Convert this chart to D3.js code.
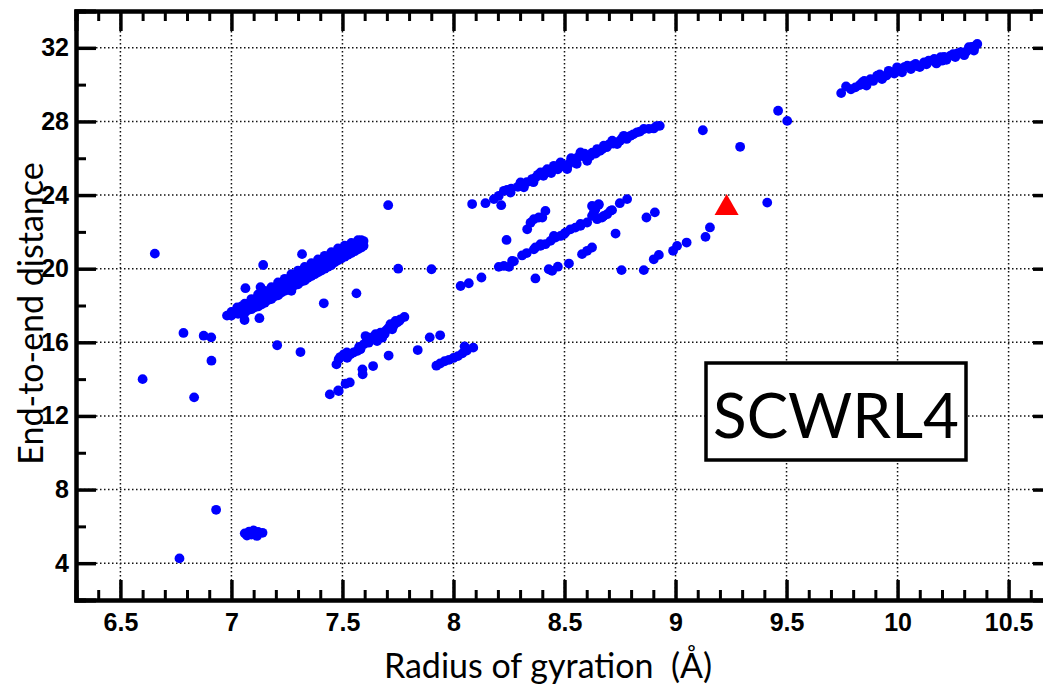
<!DOCTYPE html>
<html>
<head>
<meta charset="utf-8">
<script src="https://cdn.jsdelivr.net/npm/d3@7"></script>
<style>
  body { margin: 0; background: #fff; }
  .tick-lbl text { font-family: "Liberation Sans", Arial, sans-serif; font-weight: bold; font-size: 25px; fill: #000; }
  .axis-title { font-family: Lato, "Open Sans", sans-serif; font-size: 34px; fill: #000; white-space: pre; }
</style>
</head>
<body>
<div id="chart"></div>
<script>
// ---- data ----
const xMajor = [6.5, 7, 7.5, 8, 8.5, 9, 9.5, 10, 10.5];
const xMinor = [6.4, 6.6, 6.7, 6.8, 6.9, 7.1, 7.2, 7.3, 7.4, 7.6, 7.7, 7.8, 7.9,
    8.1, 8.2, 8.3, 8.4, 8.6, 8.7, 8.8, 8.9, 9.1, 9.2, 9.3, 9.4, 9.6, 9.7, 9.8, 9.9,
    10.1, 10.2, 10.3, 10.4, 10.6];
const yMajor = [4, 8, 12, 16, 20, 24, 28, 32];
const yMinor = [6, 10, 14, 18, 22, 26, 30];

// dense band near Rg 7.0-7.6
const bandA = [
    [6.98, 17.45], [7.00, 17.45], [7.00, 17.65], [7.03, 17.55], [7.03, 17.85],
    [7.06, 17.6], [7.06, 17.85], [7.06, 18.1], [7.09, 17.8], [7.09, 18.05], [7.09, 18.35],
    [7.12, 17.95], [7.12, 18.25], [7.12, 18.6], [7.15, 18.15], [7.15, 18.45], [7.15, 18.8],
    [7.18, 18.35], [7.18, 18.7], [7.18, 19.0], [7.21, 18.55], [7.21, 18.9], [7.21, 19.25],
    [7.24, 18.8], [7.24, 19.1], [7.24, 19.45], [7.27, 18.95], [7.27, 19.3], [7.27, 19.7],
    [7.30, 19.15], [7.30, 19.5], [7.30, 19.9], [7.33, 19.35], [7.33, 19.75], [7.33, 20.1],
    [7.36, 19.6], [7.36, 19.95], [7.36, 20.3], [7.39, 19.8], [7.39, 20.15], [7.39, 20.5],
    [7.42, 20.0], [7.42, 20.35], [7.42, 20.7], [7.45, 20.2], [7.45, 20.55], [7.45, 20.9],
    [7.48, 20.45], [7.48, 20.75], [7.48, 21.1], [7.51, 20.65], [7.51, 20.95], [7.51, 21.25],
    [7.54, 20.85], [7.54, 21.15], [7.54, 21.4], [7.57, 21.05], [7.57, 21.3], [7.57, 21.55],
    [7.595, 21.25], [7.595, 21.5], [7.27, 18.8], [7.131, 19.0], [7.026, 17.9],
    [7.045, 17.6], [7.045, 17.95], [7.075, 17.75], [7.075, 18.1], [7.105, 17.9], [7.105, 18.3],
    [7.135, 18.05], [7.135, 18.5], [7.165, 18.3], [7.165, 18.7], [7.195, 18.5], [7.195, 18.95],
    [7.225, 18.7], [7.225, 19.15], [7.255, 18.9], [7.255, 19.4], [7.285, 19.1], [7.285, 19.55],
    [7.315, 19.3], [7.315, 19.75], [7.345, 19.5], [7.345, 19.95], [7.375, 19.7], [7.375, 20.15],
    [7.405, 19.9], [7.405, 20.35], [7.435, 20.1], [7.435, 20.55], [7.465, 20.35], [7.465, 20.8],
    [7.495, 20.55], [7.495, 21.0], [7.525, 20.75], [7.525, 21.15], [7.555, 20.95], [7.555, 21.35],
    [7.585, 21.15], [7.585, 21.55]
];
const bandB = [
    [7.473, 14.8], [7.483, 15.08], [7.506, 15.35], [7.521, 15.16], [7.536, 15.35],
    [7.566, 15.53], [7.581, 15.62], [7.596, 15.89], [7.604, 16.34], [7.618, 15.98],
    [7.626, 16.25], [7.649, 16.44], [7.656, 16.07], [7.671, 16.52], [7.679, 16.25],
    [7.694, 16.62], [7.716, 16.98], [7.724, 16.71], [7.739, 17.16], [7.746, 17.07],
    [7.761, 17.25], [7.779, 17.38],
    [7.49, 15.2], [7.52, 15.45], [7.55, 15.45], [7.575, 15.75], [7.61, 16.1], [7.635, 16.2],
    [7.66, 16.3], [7.69, 16.45], [7.705, 16.75], [7.73, 16.9], [7.755, 17.15],
    [7.443, 13.17], [7.481, 13.39], [7.483, 13.35], [7.514, 13.75], [7.533, 13.82],
    [7.59, 14.53], [7.591, 14.26], [7.638, 14.71], [7.708, 15.28]
];
const bandC = [
    [7.839, 15.58], [7.893, 16.27], [7.94, 16.38], [7.923, 14.73], [7.94, 14.85],
    [7.96, 14.97], [7.98, 15.05], [8.0, 15.15], [8.02, 15.25], [8.04, 15.4],
    [8.06, 15.55], [8.05, 15.78], [8.089, 15.71]
];
const bandD = [
    [8.084, 23.51], [8.144, 23.56], [8.215, 23.45], [8.182, 23.78], [8.204, 23.96],
    [8.227, 24.23], [8.241, 24.28], [8.257, 24.14], [8.302, 24.69], [8.317, 24.42],
    [8.354, 24.87], [8.37, 24.95], [8.392, 25.23], [8.405, 25.05], [8.422, 25.41],
    [8.44, 25.2], [8.452, 25.59], [8.47, 25.4], [8.482, 25.77], [8.5, 25.55],
    [8.512, 25.41], [8.542, 25.86], [8.555, 25.7], [8.572, 26.32], [8.585, 26.1],
    [8.602, 26.13], [8.602, 25.86], [8.625, 26.3], [8.647, 26.5], [8.66, 26.4],
    [8.677, 26.68], [8.7, 26.75], [8.715, 26.95], [8.737, 26.77], [8.767, 27.22],
    [8.78, 27.05], [8.797, 27.22], [8.827, 27.41], [8.857, 27.59], [8.902, 27.62],
    [8.929, 27.76],
    [8.26, 24.35], [8.29, 24.45], [8.33, 24.7], [8.36, 24.7], [8.38, 25.1], [8.41, 25.25],
    [8.43, 25.3], [8.46, 25.45], [8.49, 25.6], [8.52, 25.7], [8.53, 26.0], [8.56, 26.05],
    [8.59, 26.25], [8.615, 26.1], [8.64, 26.25], [8.67, 26.5], [8.69, 26.6], [8.72, 26.8],
    [8.75, 26.95], [8.76, 27.1], [8.81, 27.3], [8.84, 27.45], [8.88, 27.6], [8.915, 27.75]
];
const bandE = [
    [8.032, 19.06], [8.069, 19.21], [8.126, 19.52], [8.204, 20.1], [8.227, 20.15],
    [8.25, 20.1], [8.264, 20.42], [8.272, 20.4], [8.309, 20.72], [8.33, 20.85],
    [8.362, 21.05], [8.369, 21.15], [8.392, 21.24], [8.392, 21.33], [8.414, 21.33],
    [8.437, 21.51], [8.452, 21.78], [8.459, 21.69], [8.482, 21.78], [8.497, 21.87],
    [8.504, 21.96], [8.527, 22.14], [8.549, 22.23], [8.572, 22.33], [8.572, 22.43],
    [8.602, 22.51], [8.624, 22.87], [8.632, 23.05], [8.639, 23.23], [8.654, 23.5],
    [8.647, 22.69], [8.677, 22.87], [8.707, 23.14], [8.749, 23.56], [8.782, 23.78],
    [8.332, 22.14], [8.347, 22.5], [8.362, 22.69], [8.384, 22.78], [8.4, 22.78], [8.414, 23.14],
    [8.624, 23.41], [8.654, 23.47], [8.632, 22.96], [8.669, 22.78], [8.692, 22.96], [8.714, 23.18],
    [8.429, 19.97], [8.444, 19.88], [8.47, 20.11], [8.52, 20.28], [8.579, 20.79],
    [8.602, 20.97], [8.624, 21.15],
    [8.869, 22.78], [8.907, 23.06], [8.902, 20.51], [8.925, 20.75], [8.989, 20.97],
    [9.007, 21.24], [9.05, 21.42], [9.135, 21.73], [9.155, 22.24]
];
const bandF = [
    [9.746, 29.54], [9.768, 29.9], [9.81, 29.85], [9.841, 30.12], [9.86, 29.95],
    [9.878, 30.3], [9.908, 30.49], [9.93, 30.3], [9.95, 30.5], [9.968, 30.67],
    [9.998, 30.94], [10.02, 30.67], [10.044, 31.03], [10.06, 30.85], [10.081, 31.12],
    [10.1, 30.95], [10.119, 31.21], [10.156, 31.3], [10.175, 31.15], [10.194, 31.49],
    [10.22, 31.35], [10.239, 31.58], [10.26, 31.5], [10.284, 31.76], [10.3, 31.6],
    [10.321, 32.03], [10.344, 31.85], [10.359, 32.21],
    [9.79, 29.75], [9.83, 29.98], [9.85, 30.2], [9.89, 30.2], [9.92, 30.55], [9.94, 30.45],
    [9.96, 30.75], [9.985, 30.6], [10.01, 30.85], [10.03, 30.95], [10.07, 31.05], [10.09, 31.0],
    [10.13, 31.1], [10.14, 31.3], [10.165, 31.4], [10.2, 31.3], [10.21, 31.5], [10.25, 31.65],
    [10.27, 31.7], [10.31, 31.8], [10.335, 32.05], [10.35, 32.1]
];
const clusterG = [
    [7.06, 5.62], [7.08, 5.72], [7.1, 5.78], [7.12, 5.7], [7.14, 5.65],
    [7.09, 5.55], [7.115, 5.48], [7.07, 5.5]
];
const scattered = [
    [6.655, 20.82], [7.143, 20.2], [7.063, 18.94], [7.318, 20.79], [7.126, 17.31],
    [7.059, 17.21], [7.416, 18.12], [7.563, 18.66], [7.751, 20.0], [7.901, 19.97],
    [7.206, 15.84], [7.311, 15.47], [6.784, 16.51], [6.875, 16.36], [6.909, 16.27],
    [6.91, 15.0], [6.6, 14.0], [6.832, 13.01], [7.706, 23.45], [6.931, 6.9],
    [6.766, 4.26], [9.123, 27.52], [9.291, 26.62], [9.462, 28.58], [9.503, 28.03],
    [9.413, 23.59], [8.239, 21.56], [8.369, 19.47], [8.73, 21.91], [8.757, 19.92],
    [8.857, 19.92]
];
const reference = [[9.23, 23.3]];
const label = "SCWRL4";

const allPoints = [].concat(bandA, bandB, bandC, bandD, bandE, bandF, clusterG, scattered);

// ---- layout ----
const W = 1043, H = 692;
const svg = d3.select('#chart').append('svg')
    .attr('width', W).attr('height', H);

const x = d3.scaleLinear().domain([6.3, 10.7]).range([76, 1053]);
const y = d3.scaleLinear().domain([2, 34]).range([600, 11]);
const [x0, x1] = x.range();
const [y0, y1] = y.range();

// dotted grid
const grid = svg.append('g').attr('stroke', '#111').attr('stroke-width', 1.5)
    .attr('stroke-dasharray', '1.5,2.5');
grid.selectAll('.gx').data(xMajor).enter().append('line')
    .attr('x1', d => x(d)).attr('x2', d => x(d)).attr('y1', y1).attr('y2', y0);
grid.selectAll('.gy').data(yMajor).enter().append('line')
    .attr('x1', x0).attr('x2', x1).attr('y1', d => y(d)).attr('y2', d => y(d));

// points
svg.append('g').selectAll('circle').data(allPoints).enter().append('circle')
    .attr('cx', d => x(d[0])).attr('cy', d => y(d[1])).attr('r', 4.9)
    .attr('fill', '#0000ff');

svg.append('g').selectAll('path').data(reference).enter().append('path')
    .attr('d', d3.symbol(d3.symbolTriangle, 250))
    .attr('transform', d => `translate(${x(d[0])},${y(d[1])})`)
    .attr('fill', '#ff0000');

// axes
function styleAxis(g, w) {
    g.select('.domain').attr('stroke', '#000').attr('stroke-width', 4);
    g.selectAll('.tick line').attr('stroke', '#000').attr('stroke-width', w);
}
const axes = [
    [d3.axisBottom(x).tickValues(xMajor).tickSize(-20).tickPadding(13).tickFormat(d => d), `translate(0,${y0})`, 'tick-lbl', 3.5],
    [d3.axisBottom(x).tickValues(xMinor).tickSize(-10).tickFormat(''), `translate(0,${y0})`, '', 3],
    [d3.axisTop(x).tickValues(xMajor).tickSize(-20).tickFormat(''), `translate(0,${y1})`, '', 3.5],
    [d3.axisTop(x).tickValues(xMinor).tickSize(-10).tickFormat(''), `translate(0,${y1})`, '', 3],
    [d3.axisLeft(y).tickValues(yMajor).tickSize(-20).tickPadding(7).tickFormat(d => d), `translate(${x0},0)`, 'tick-lbl', 3.5],
    [d3.axisLeft(y).tickValues(yMinor).tickSize(-10).tickFormat(''), `translate(${x0},0)`, '', 3],
    [d3.axisRight(y).tickValues(yMajor).tickSize(-20).tickFormat(''), `translate(${x1},0)`, '', 3.5],
    [d3.axisRight(y).tickValues(yMinor).tickSize(-10).tickFormat(''), `translate(${x1},0)`, '', 3]
];
axes.forEach(([ax, tr, cls, w]) => {
    const g = svg.append('g').attr('transform', tr).attr('class', cls).call(ax);
    styleAxis(g, w);
    g.selectAll('text').attr('font-size', null).attr('font-family', null);
});

// titles
svg.append('text').attr('class', 'axis-title')
    .attr('x', 548).attr('y', 678).attr('text-anchor', 'middle')
    .text('Radius of gyration  (Å)');
svg.append('text').attr('class', 'axis-title')
    .attr('transform', `translate(43,${(y0 + y1) / 2 + 8}) rotate(-90)`)
    .attr('text-anchor', 'middle')
    .text('End-to-end distance');

// label box
const box = svg.append('g').attr('transform', 'translate(706,363)');
box.append('rect').attr('width', 260).attr('height', 97)
    .attr('fill', '#fff').attr('stroke', '#000').attr('stroke-width', 3.5);
box.append('text').attr('x', 130).attr('y', 75).attr('text-anchor', 'middle')
    .attr('font-family', 'Lato, "Open Sans", sans-serif').attr('font-size', 62)
    .text(label);
</script>
</body>
</html>
